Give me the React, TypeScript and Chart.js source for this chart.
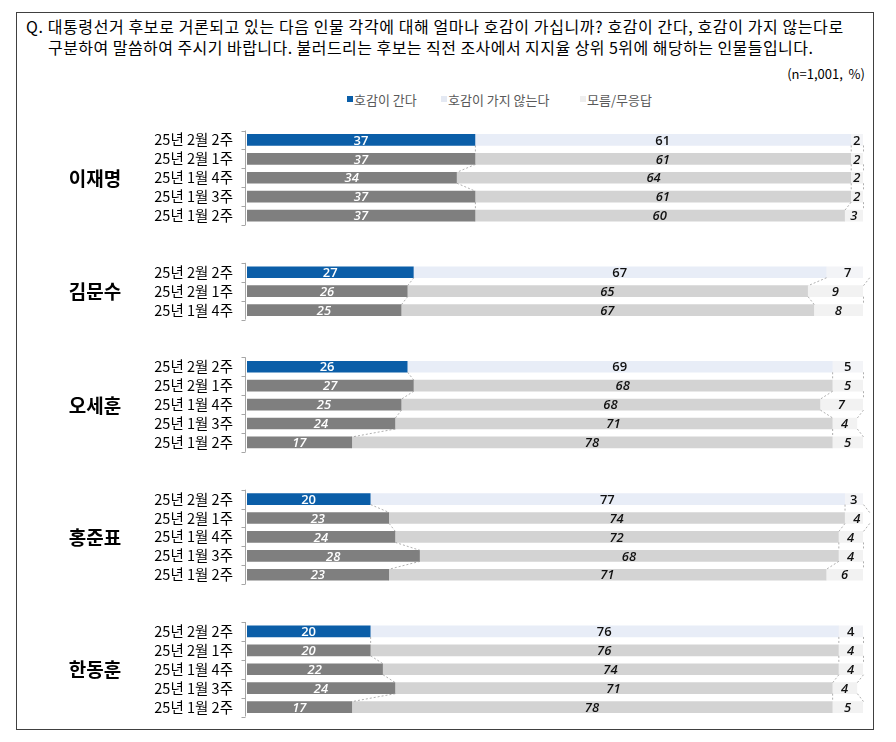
import React, { useEffect, useRef } from 'react';
import { Chart, registerables } from 'chart.js';

Chart.register(...registerables);

// ---- data ----
const candidates = ['이재명', '김문수', '오세훈', '홍준표', '한동훈'];
const periodsLong = ['25년 2월 2주', '25년 2월 1주', '25년 1월 4주', '25년 1월 3주', '25년 1월 2주'];
const periodsShort = ['25년 2월 2주', '25년 2월 1주', '25년 1월 4주'];
const periodsByCandidate = [periodsLong, periodsShort, periodsLong, periodsLong, periodsLong];

const favorable = [
  [37, 37, 34, 37, 37],
  [27, 26, 25],
  [26, 27, 25, 24, 17],
  [20, 23, 24, 28, 23],
  [20, 20, 22, 24, 17],
];
const unfavorable = [
  [61, 61, 64, 61, 60],
  [67, 65, 67],
  [69, 68, 68, 71, 78],
  [77, 74, 72, 68, 71],
  [76, 76, 74, 71, 78],
];
const noAnswer = [
  [2, 2, 2, 2, 3],
  [7, 9, 8],
  [5, 5, 7, 4, 5],
  [3, 4, 4, 4, 6],
  [4, 4, 4, 4, 5],
];
const seriesNames = ['호감이 간다', '호감이 가지 않는다', '모름/무응답'];

// ---- styles ----
const latestColors = ['#0b5ea8', '#e8edf7', '#f3f4f7'];
const pastColors = ['#7f7f7f', '#d3d3d3', '#f2f2f2'];
const legendColors = ['#0b5ea8', '#e4e9f3', '#eeeeee'];
const FONT_KR = '"Noto Sans CJK KR", "Noto Sans", sans-serif';
const FONT_NUM = '"Open Sans", "Noto Sans", sans-serif';

// ---- build category table ----
type Row = { g: number; r: number } | null;
const labels: string[] = [];
const rows: Row[] = [];
const seriesData: (number | null)[][] = [[], [], []];
candidates.forEach((_, g) => {
  if (g > 0) {
    for (let k = 0; k < 2; k++) {
      labels.push('');
      rows.push(null);
      seriesData.forEach((s) => s.push(null));
    }
  }
  periodsByCandidate[g].forEach((p, r) => {
    labels.push(p);
    rows.push({ g, r });
    seriesData[0].push(favorable[g][r]);
    seriesData[1].push(unfavorable[g][r]);
    seriesData[2].push(noAnswer[g][r]);
  });
});

const overlayPlugin = {
  id: 'overlay',
  afterDatasetsDraw(chart: any) {
    const ctx = chart.ctx as CanvasRenderingContext2D;
    // connector lines
    ctx.save();
    ctx.setLineDash([2, 2]);
    ctx.strokeStyle = '#9c9c9c';
    ctx.lineWidth = 0.8;
    for (let d = 0; d < 3; d++) {
      const meta = chart.getDatasetMeta(d);
      for (let i = 0; i < rows.length - 1; i++) {
        const a = rows[i];
        const b = rows[i + 1];
        if (!a || !b || a.g !== b.g) continue;
        const ea = meta.data[i];
        const eb = meta.data[i + 1];
        ctx.beginPath();
        ctx.moveTo(ea.x + 0.5, ea.y + ea.height / 2);
        ctx.lineTo(eb.x + 0.5, eb.y - eb.height / 2);
        ctx.stroke();
      }
    }
    ctx.restore();

    // value labels
    ctx.save();
    ctx.textAlign = 'center';
    ctx.textBaseline = 'middle';
    for (let d = 0; d < 3; d++) {
      const meta = chart.getDatasetMeta(d);
      const data = chart.data.datasets[d].data;
      for (let i = 0; i < rows.length; i++) {
        const row = rows[i];
        if (!row) continue;
        const el = meta.data[i];
        const latest = row.r === 0;
        ctx.font = latest ? `600 13px ${FONT_NUM}` : `italic 600 13px ${FONT_NUM}`;
        ctx.fillStyle = d === 0 ? '#ffffff' : '#111111';
        const cx = (el.x + el.base) / 2;
        ctx.fillText(String(data[i]), cx, el.y + 1);
      }
    }
    ctx.restore();
  },
  afterDraw(chart: any) {
    const ctx = chart.ctx as CanvasRenderingContext2D;
    const y = chart.scales.y;
    const area = chart.chartArea;
    const step = y.getPixelForValue(1) - y.getPixelForValue(0);
    const axisX = area.left - 1.5;
    ctx.save();
    ctx.strokeStyle = '#a6a6a6';
    ctx.lineWidth = 1;
    candidates.forEach((name, g) => {
      const idxs = rows.map((r, i) => (r && r.g === g ? i : -1)).filter((i) => i >= 0);
      const top = y.getPixelForValue(idxs[0]) - step / 2;
      const bottom = y.getPixelForValue(idxs[idxs.length - 1]) + step / 2;
      ctx.beginPath();
      ctx.moveTo(axisX, top);
      ctx.lineTo(axisX, bottom);
      for (let k = 0; k <= idxs.length; k++) {
        const ty = Math.round(top + k * step) + 0.5;
        ctx.moveTo(axisX - 4, ty);
        ctx.lineTo(axisX, ty);
      }
      ctx.stroke();
      // group name
      const mid = (y.getPixelForValue(idxs[0]) + y.getPixelForValue(idxs[idxs.length - 1])) / 2;
      ctx.fillStyle = '#000000';
      ctx.font = `bold 19px ${FONT_KR}`;
      ctx.textAlign = 'center';
      ctx.textBaseline = 'middle';
      ctx.fillText(name, area.left - 152, mid + 1);
    });
    ctx.restore();
  },
};

export default function App() {
  const canvasRef = useRef<HTMLCanvasElement>(null);

  useEffect(() => {
    const canvas = canvasRef.current;
    if (!canvas) return;
    const chart = new Chart(canvas, {
      type: 'bar',
      data: {
        labels,
        datasets: seriesNames.map((name, d) => ({
          label: name,
          data: seriesData[d],
          backgroundColor: (c: any) => {
            const row = rows[c.dataIndex];
            return row && row.r === 0 ? latestColors[d] : pastColors[d];
          },
          borderWidth: 0,
          barThickness: 11,
        })),
      },
      options: {
        indexAxis: 'y',
        responsive: false,
        animation: false,
        layout: { padding: { top: 20.5, bottom: 9.5, left: 0, right: 10 } },
        plugins: {
          legend: { display: false },
          tooltip: { enabled: false },
          title: { display: false },
        },
        scales: {
          x: { stacked: true, min: 0, max: 100, display: false },
          y: {
            stacked: true,
            grid: { display: false, drawTicks: false },
            border: { display: false },
            afterFit: (scale: any) => {
              scale.width = 230;
              scale.paddingTop = 0;
              scale.paddingBottom = 0;
            },
            ticks: {
              autoSkip: false,
              padding: 14,
              color: '#000000',
              font: { family: FONT_KR, size: 14.5 },
            },
          },
        },
      },
      plugins: [overlayPlugin],
    } as any);
    return () => chart.destroy();
  }, []);

  const titleStyle: React.CSSProperties = {
    position: 'absolute',
    fontSize: 16,
    lineHeight: '21px',
    whiteSpace: 'nowrap',
  };

  return (
    <div
      style={{
        position: 'absolute',
        left: 16,
        top: 12,
        width: 856,
        height: 716,
        border: '1px solid #404040',
        background: '#ffffff',
        fontFamily: FONT_KR,
        color: '#000000',
      }}
    >
      <div style={{ ...titleStyle, left: 9, top: 3, letterSpacing: 0.6 }}>
        Q. 대통령선거 후보로 거론되고 있는 다음 인물 각각에 대해 얼마나 호감이 가십니까? 호감이 간다, 호감이 가지 않는다로
      </div>
      <div style={{ ...titleStyle, left: 31, top: 24, letterSpacing: 0.45 }}>
        구분하여 말씀하여 주시기 바랍니다. 불러드리는 후보는 직전 조사에서 지지율 상위 5위에 해당하는 인물들입니다.
      </div>
      <div style={{ position: 'absolute', right: 8, top: 52, fontSize: 13, lineHeight: '18px', whiteSpace: 'nowrap' }}>
        (n=1,001,&nbsp; %)
      </div>
      {seriesNames.map((name, d) => (
        <div
          key={name}
          style={{
            position: 'absolute',
            left: [330, 424, 563][d],
            top: 77,
            height: 18,
            display: 'flex',
            alignItems: 'center',
            fontSize: 13,
            color: '#595959',
            whiteSpace: 'nowrap',
          }}
        >
          <span style={{ display: 'inline-block', width: 6, height: 6, background: legendColors[d], marginRight: 1 }} />
          {name}
        </div>
      ))}
      <canvas ref={canvasRef} width={856} height={616} style={{ position: 'absolute', left: 0, top: 97 }} />
    </div>
  );
}
